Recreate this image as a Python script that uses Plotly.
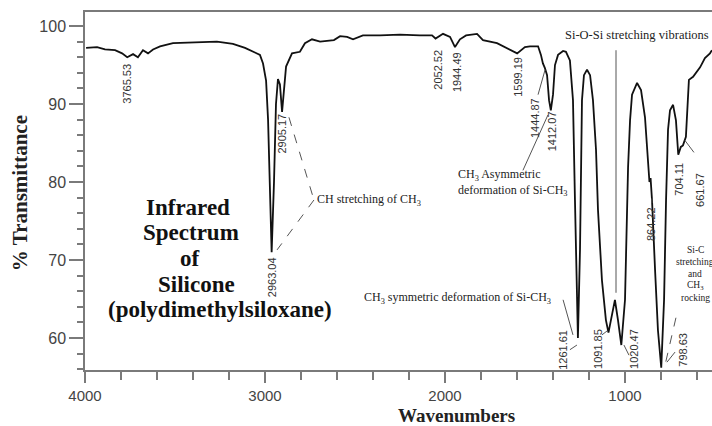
import plotly.graph_objects as go

# IR transmission spectrum of polydimethylsiloxane (wavenumber in cm-1, % transmittance)
wavenumber = [
    3994, 3933, 3889, 3833, 3794, 3765.53, 3733, 3706, 3678, 3650, 3622, 3583, 3511,
    3417, 3267, 3178, 3111, 3056, 3028, 3011, 2994, 2983, 2972, 2963.04, 2950, 2939,
    2928, 2917, 2905.17, 2894, 2883, 2850, 2806, 2778, 2739, 2694, 2656, 2617, 2583,
    2544, 2511, 2456, 2361, 2250, 2139, 2072, 2052.52, 2011, 1972, 1944.49, 1917, 1883,
    1822, 1789, 1711, 1667, 1599.19, 1556, 1528, 1483, 1467, 1456, 1444.87, 1433, 1422,
    1412.07, 1400, 1389, 1372, 1344, 1328, 1306, 1289, 1278, 1267, 1261.61, 1250, 1244,
    1239, 1228, 1211, 1194, 1178, 1161, 1150, 1128, 1106, 1091.85, 1072, 1056, 1039,
    1020.47, 1000, 989, 983, 972, 961, 933, 911, 889, 872, 864.22, 858, 850, 833, 817,
    798.63, 783, 772, 761, 750, 733, 717, 704.11, 690, 678, 661.67, 652, 645, 622, 600,
    583, 556, 528, 517,
]
transmittance = [
    97.2, 97.3, 97.0, 96.9, 96.5, 96.0, 96.4, 96.0, 96.9, 96.5, 97.0, 97.4, 97.8,
    97.9, 98.0, 97.7, 97.2, 96.6, 96.3, 95.2, 93.0, 88.0, 78.0, 71.0, 80.0, 90.0,
    93.2, 92.5, 89.0, 92.5, 94.8, 96.5, 96.7, 97.8, 98.3, 98.0, 98.1, 98.2, 98.7,
    98.6, 98.3, 98.8, 98.8, 98.9, 98.8, 98.8, 98.4, 99.0, 98.6, 97.3, 98.3, 98.8,
    99.0, 98.2, 97.8, 97.3, 96.5, 97.3, 97.4, 97.4, 96.3, 95.2, 94.6, 93.7, 90.5,
    89.2, 91.2, 95.0, 96.3, 96.8, 96.7, 95.6, 90.5, 77.7, 64.9, 60.0, 71.3, 84.1,
    90.5, 93.7, 94.4, 93.7, 90.5, 84.1, 76.4, 67.4, 62.3, 60.7, 63.0, 64.9, 62.3,
    59.1, 64.9, 75.1, 81.9, 87.9, 91.2, 92.7, 91.8, 88.3, 82.8, 80.0, 80.5, 77.7, 68.7, 61.0,
    56.2, 64.9, 77.7, 86.7, 89.2, 89.9, 87.9, 83.5, 84.5, 84.7, 85.8, 91.0, 93.1, 93.5, 94.1,
    94.7, 95.9, 96.5, 96.9,
]

x_ticks = [4000, 3000, 2000, 1000]
x_tick_text = ["4000", "3000", "2000", "1000"]
y_ticks = [60, 70, 80, 90, 100]
y_tick_text = ["60", "70", "80", "90", "100"]

# peak labels: text, label centre (wavenumber, %T)
peak_labels = [
    ("3765.53", 3767, 92.6),
    ("2963.04", 2961, 67.8),
    ("2905.17", 2906, 86.2),
    ("2052.52", 2039, 94.4),
    ("1944.49", 1933, 94.1),
    ("1599.19", 1594, 93.5),
    ("1444.87", 1500, 88.2),
    ("1412.07", 1406, 86.5),
    ("1261.61", 1344, 58.5),
    ("1091.85", 1150, 58.6),
    ("1020.47", 950, 58.6),
    ("864.22", 856, 74.6),
    ("798.63", 678, 58.5),
    ("704.11", 700, 80.3),
    ("661.67", 583, 79.0),
]

SERIF = "Liberation Serif, Times New Roman, serif"
SANS = "Liberation Sans, Arial, sans-serif"
AXIS_GREY = "#7a7a7a"

fig = go.Figure()
fig.add_trace(go.Scatter(
    x=wavenumber, y=transmittance, mode="lines",
    line=dict(color="#111111", width=1.8),
    hoverinfo="skip", showlegend=False,
))

annotations = []
for text, xx, yy in peak_labels:
    annotations.append(dict(
        x=xx, y=yy, text=text, showarrow=False, textangle=-90,
        font=dict(family=SANS, size=11, color="#333333"),
        xanchor="center", yanchor="middle",
    ))

def note(text, x, y, size=12, xanchor="center", align="center"):
    annotations.append(dict(
        x=x, y=y, text=text, showarrow=False, xanchor=xanchor, yanchor="middle",
        align=align, font=dict(family=SERIF, size=size, color="#222222"),
    ))

note("CH stretching of CH<sub>3</sub>", 2722, 77.7, xanchor="left")
note("CH<sub>3</sub> Asymmetric<br>deformation of Si-CH<sub>3</sub>", 1939, 79.9,
     xanchor="left", align="left")
note("CH<sub>3</sub> symmetric deformation of Si-CH<sub>3</sub>", 1933, 65.1)
note("Si-O-Si stretching vibrations", 933, 98.8, size=12.5)
for line_text, yy in [("Si-C", 71.3), ("stretching", 69.7), ("and", 68.2),
                      ("CH<sub>3</sub>", 66.7), ("rocking", 65.1)]:
    note(line_text, 611, yy, size=9.5)

# chart title block
for line_text, xx, yy in [("Infrared", 3428, 76.76), ("Spectrum", 3411, 73.47),
                          ("of", 3417, 70.19), ("Silicone", 3383, 66.91),
                          ("(polydimethylsiloxane)", 3250, 63.63)]:
    annotations.append(dict(
        x=xx, y=yy, text=f"<b>{line_text}</b>", showarrow=False,
        xanchor="center", yanchor="middle",
        font=dict(family=SERIF, size=23, color="#111111"),
    ))

# axis titles
annotations.append(dict(
    xref="paper", yref="paper", x=-0.1037, y=0.494, text="<b>% Transmittance</b>",
    textangle=-90, showarrow=False, xanchor="center", yanchor="middle",
    font=dict(family=SERIF, size=21, color="#222222"),
))
annotations.append(dict(
    xref="paper", yref="paper", x=0.593, y=-0.128, text="<b>Wavenumbers</b>",
    showarrow=False, xanchor="center", yanchor="middle",
    font=dict(family=SERIF, size=19, color="#222222"),
))

# leader lines from labels to bands
leaders = [
    ((2867, 88.3), (2728, 77.7), "dash"),
    ((2728, 77.7), (2933, 71.3), "dash"),
    ((1567, 81.5), (1428, 88.6), "solid"),
    ((1483, 91.2), (1444, 94.4), "solid"),
    ((1344, 64.9), (1289, 60.4), "solid"),
    ((1306, 58.5), (1267, 59.1), "solid"),
    ((1128, 60.4), (1100, 60.9), "solid"),
    ((1006, 59.1), (978, 57.8), "solid"),
    ((851, 77.9), (851, 77.3), "solid"),
    ((722, 58.2), (767, 56.9), "solid"),
    ((717, 62.6), (778, 56.5), "dash"),
    ((666, 85.3), (617, 83.8), "solid"),
    ((1050, 96.9), (1050, 65.8), "solid"),
]
shapes = []
for (x0, y0), (x1, y1), dash in leaders:
    shapes.append(dict(
        type="line", xref="x", yref="y", x0=x0, y0=y0, x1=x1, y1=y1,
        line=dict(color="#555555", width=1, dash="dash" if dash == "dash" else "solid"),
    ))

fig.update_layout(
    width=712, height=426,
    margin=dict(l=85, r=0, t=12, b=56),
    paper_bgcolor="white", plot_bgcolor="white",
    annotations=annotations, shapes=shapes,
    xaxis=dict(
        range=[4000, 516.7], tickvals=x_ticks, ticktext=x_tick_text,
        ticks="outside", ticklen=11, tickwidth=1.5, tickcolor=AXIS_GREY,
        showline=True, linecolor=AXIS_GREY, linewidth=1.5, mirror=True,
        showgrid=False, zeroline=False,
        tickfont=dict(family=SANS, size=15, color="#444444"),
        minor=dict(dtick=200, ticks="outside", ticklen=8, tickwidth=1.5,
                   tickcolor=AXIS_GREY, showgrid=False),
    ),
    yaxis=dict(
        range=[55.9, 101.8], tickvals=y_ticks, ticktext=y_tick_text,
        ticks="outside", ticklen=14, tickwidth=1.5, tickcolor=AXIS_GREY,
        showline=True, linecolor=AXIS_GREY, linewidth=1.5,
        showgrid=False, zeroline=False,
        tickfont=dict(family=SANS, size=16, color="#444444"),
        minor=dict(dtick=2, ticks="outside", ticklen=6, tickwidth=1.5,
                   tickcolor=AXIS_GREY, showgrid=False),
    ),
)

fig.write_html("out.html")
